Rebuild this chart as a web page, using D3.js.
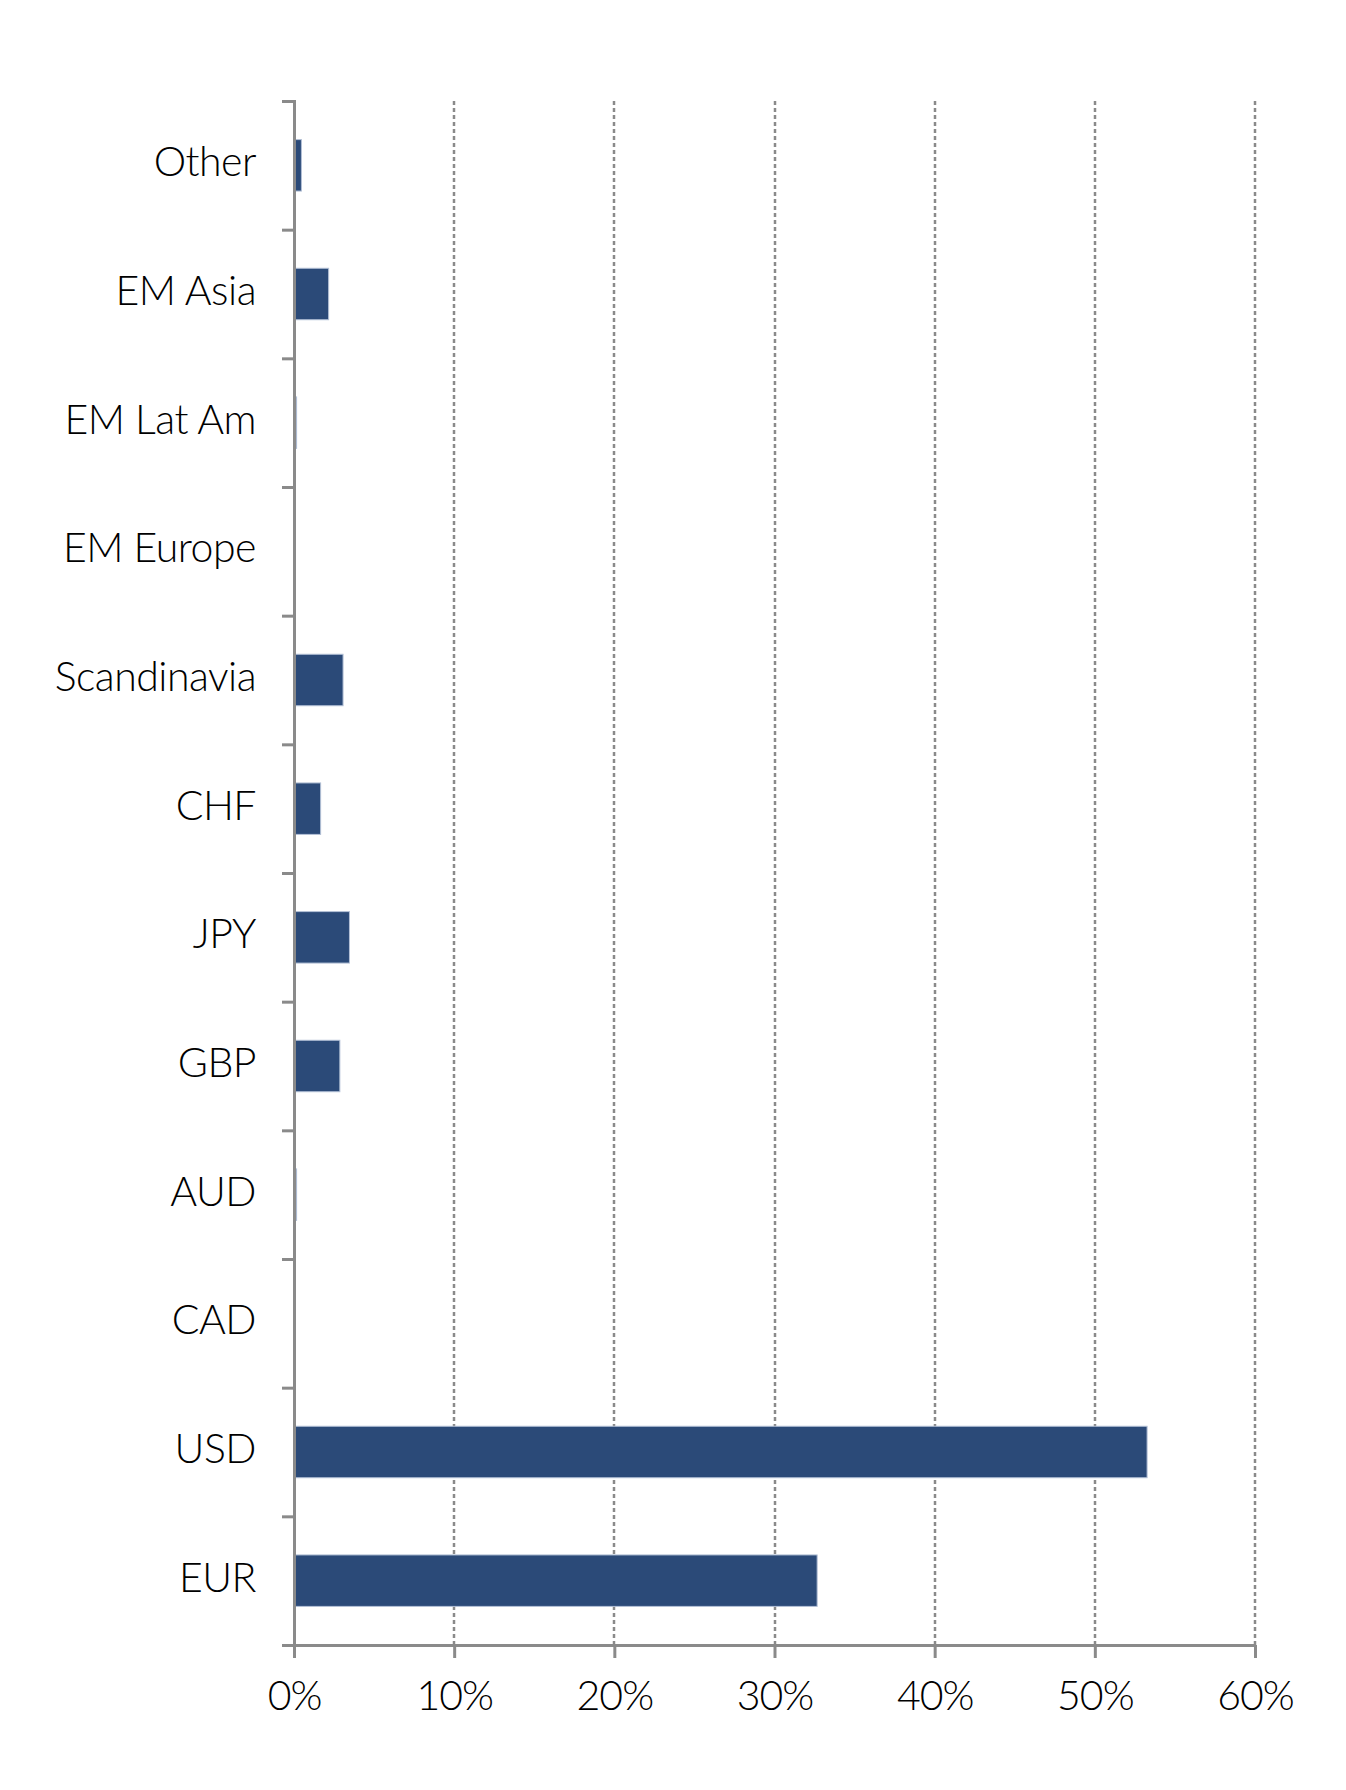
<!DOCTYPE html>
<html>
<head>
<meta charset="utf-8">
<script src="https://cdn.jsdelivr.net/npm/d3@7"></script>
<style>
  body { margin: 0; background: #fff; }
  svg text { font-family: "Lato", "Open Sans", sans-serif; font-weight: 300; fill: #000; }
</style>
</head>
<body>
<svg id="chart"></svg>
<script>
// categories top to bottom, share of exposure in %
const categories = ["Other", "EM Asia", "EM Lat Am", "EM Europe", "Scandinavia", "CHF", "JPY", "GBP", "AUD", "CAD", "USD", "EUR"];
const values = [0.4, 2.1, 0.1, 0, 3.0, 1.6, 3.4, 2.8, 0.1, 0, 53.2, 32.6];
const xTicks = [0, 10, 20, 30, 40, 50, 60];

const width = 1346, height = 1790;
const margin = { top: 101, right: 91, bottom: 145, left: 294 };
const innerW = width - margin.left - margin.right;
const innerH = height - margin.top - margin.bottom;

const svg = d3.select("#chart").attr("width", width).attr("height", height);
const g = svg.append("g").attr("transform", `translate(${margin.left},${margin.top})`);

const x = d3.scaleLinear().domain([0, 60]).range([0, innerW]);
const y = d3.scaleBand().domain(categories).range([0, innerH]).paddingInner(0.6).paddingOuter(0.3);
// band edges for the category ticks
const yEdge = d3.scaleLinear().domain([0, categories.length]).range([0, innerH]);

const axisColor = "#8a8a8a";

// dotted grid
g.selectAll(".grid")
    .data(xTicks.filter(d => d > 0))
    .enter().append("line")
    .attr("class", "grid")
    .attr("x1", d => Math.round(x(d))).attr("x2", d => Math.round(x(d)))
    .attr("y1", 0).attr("y2", innerH)
    .style("stroke", axisColor)
    .style("stroke-width", 2.5)
    .style("stroke-dasharray", "4,3");

// bars
g.selectAll(".bar")
    .data(categories)
    .enter().append("rect")
    .attr("class", "bar")
    .attr("x", 1)
    .attr("y", d => y(d))
    .attr("width", (d, i) => x(values[i]))
    .attr("height", y.bandwidth())
    .style("fill", "#2b4a78")
    .style("stroke", (d, i) => values[i] > 0 ? "#b3c0d6" : "none")
    .style("stroke-width", 1);

// y axis with ticks on band edges
const yAxis = g.append("g")
    .call(d3.axisLeft(yEdge).ticks(categories.length).tickSize(12).tickSizeOuter(12).tickFormat(""));
yAxis.select(".domain").style("stroke", axisColor).style("stroke-width", 3);
yAxis.selectAll(".tick line").style("stroke", axisColor).style("stroke-width", 3);

// category labels
g.selectAll(".cat-label")
    .data(categories)
    .enter().append("text")
    .attr("class", "cat-label")
    .attr("x", -38)
    .attr("y", d => y(d) + y.bandwidth() / 2)
    .attr("dy", "0.27em")
    .attr("text-anchor", "end")
    .style("font-size", "41px")
    .style("letter-spacing", "-0.5px")
    .text(d => d);

// x axis
const xAxis = g.append("g")
    .attr("transform", `translate(0,${innerH})`)
    .call(d3.axisBottom(x).tickValues(xTicks).tickSize(13).tickSizeOuter(0).tickFormat(d => d + "%"));
xAxis.select(".domain").style("stroke", axisColor).style("stroke-width", 3);
xAxis.selectAll(".tick line").style("stroke", axisColor).style("stroke-width", 3);
xAxis.selectAll(".tick text")
    .attr("y", 35)
    .attr("dy", "0.72em")
    .style("font-size", "41px")
    .style("font-family", "Lato, sans-serif")
    .style("fill", "#000")
    .style("letter-spacing", "-1px");
</script>
</body>
</html>
